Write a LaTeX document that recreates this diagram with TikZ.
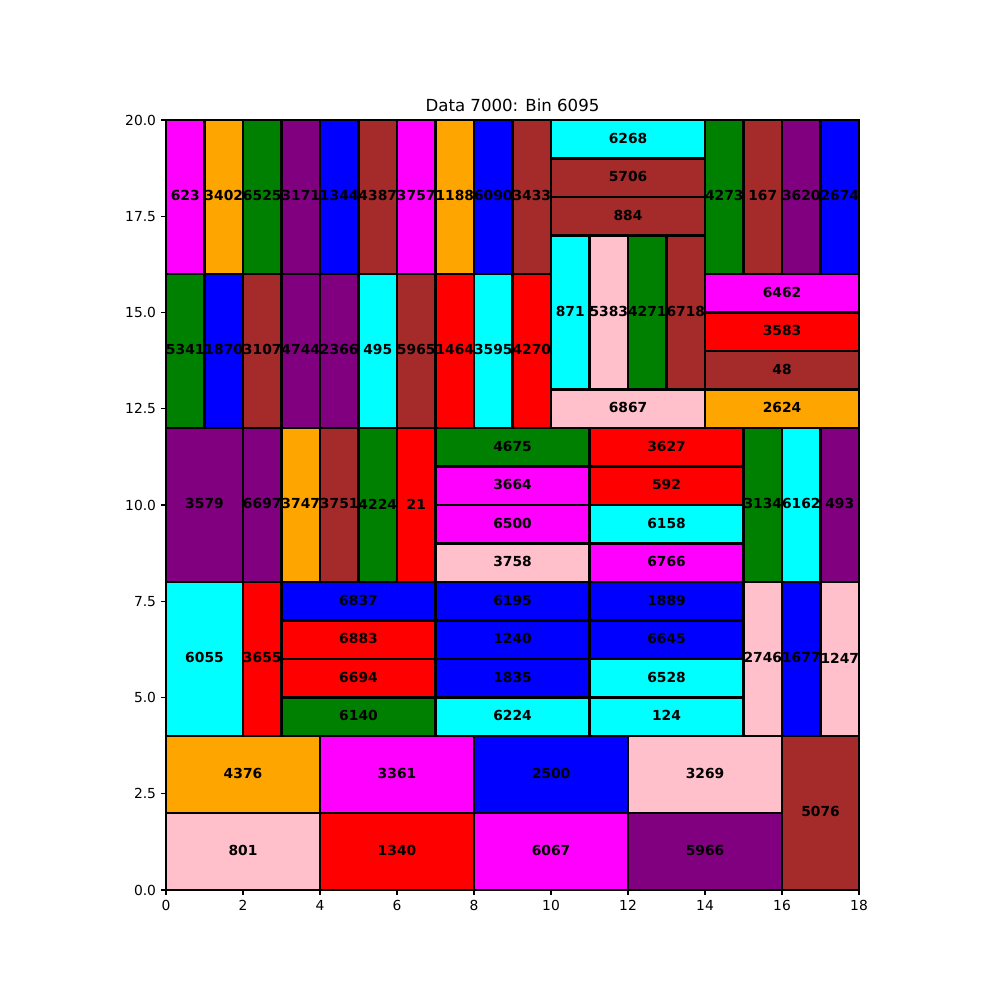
\documentclass[tikz,border=0pt]{standalone}
\usepackage{fontspec}
\setmainfont{DejaVu Sans}
\definecolor{binmagenta}{HTML}{FF00FF}
\definecolor{binorange}{HTML}{FFA500}
\definecolor{bingreen}{HTML}{008000}
\definecolor{binpurple}{HTML}{800080}
\definecolor{binblue}{HTML}{0000FF}
\definecolor{binbrown}{HTML}{A52A2A}
\definecolor{bincyan}{HTML}{00FFFF}
\definecolor{binred}{HTML}{FF0000}
\definecolor{binpink}{HTML}{FFC0CB}
\begin{document}
\begin{tikzpicture}[x=0.9779cm, y=0.9779cm,
  binedge/.style={draw=black, line width=2pt},
  binlabel/.style={inner sep=0pt, yshift=0.8pt, font=\bfseries\fontsize{10}{12}\selectfont},
  ticklabel/.style={inner sep=0pt, font=\fontsize{10}{12}\selectfont}]

% page of 1000x1000 px, axes 0..18 x 0..20
\useasboundingbox (-4.3117,-2.8571) rectangle (21.6623,23.1169);

% x/y/width/height/colour/item
\def\binlist{0/16/1/4/binmagenta/623, 1/16/1/4/binorange/3402, 2/16/1/4/bingreen/6525,
  3/16/1/4/binpurple/3171, 4/16/1/4/binblue/1344, 5/16/1/4/binbrown/4387,
  6/16/1/4/binmagenta/3757, 7/16/1/4/binorange/1188, 8/16/1/4/binblue/6090,
  9/16/1/4/binbrown/3433, 10/19/4/1/bincyan/6268, 10/18/4/1/binbrown/5706,
  10/17/4/1/binbrown/884, 14/16/1/4/bingreen/4273, 15/16/1/4/binbrown/167,
  16/16/1/4/binpurple/3620, 17/16/1/4/binblue/2674,
  0/12/1/4/bingreen/5341, 1/12/1/4/binblue/1870, 2/12/1/4/binbrown/3107,
  3/12/1/4/binpurple/4744, 4/12/1/4/binpurple/2366, 5/12/1/4/bincyan/495,
  6/12/1/4/binbrown/5965, 7/12/1/4/binred/1464, 8/12/1/4/bincyan/3595,
  9/12/1/4/binred/4270, 10/13/1/4/bincyan/871, 11/13/1/4/binpink/5383,
  12/13/1/4/bingreen/4271, 13/13/1/4/binbrown/6718, 10/12/4/1/binpink/6867,
  14/15/4/1/binmagenta/6462, 14/14/4/1/binred/3583, 14/13/4/1/binbrown/48,
  14/12/4/1/binorange/2624,
  0/8/2/4/binpurple/3579, 2/8/1/4/binpurple/6697, 3/8/1/4/binorange/3747,
  4/8/1/4/binbrown/3751, 5/8/1/4/bingreen/4224, 6/8/1/4/binred/21,
  7/11/4/1/bingreen/4675, 7/10/4/1/binmagenta/3664, 7/9/4/1/binmagenta/6500,
  7/8/4/1/binpink/3758, 11/11/4/1/binred/3627, 11/10/4/1/binred/592,
  11/9/4/1/bincyan/6158, 11/8/4/1/binmagenta/6766, 15/8/1/4/bingreen/3134,
  16/8/1/4/bincyan/6162, 17/8/1/4/binpurple/493,
  0/4/2/4/bincyan/6055, 2/4/1/4/binred/3655, 3/7/4/1/binblue/6837,
  3/6/4/1/binred/6883, 3/5/4/1/binred/6694, 3/4/4/1/bingreen/6140,
  7/7/4/1/binblue/6195, 7/6/4/1/binblue/1240, 7/5/4/1/binblue/1835,
  7/4/4/1/bincyan/6224, 11/7/4/1/binblue/1889, 11/6/4/1/binblue/6645,
  11/5/4/1/bincyan/6528, 11/4/4/1/bincyan/124, 15/4/1/4/binpink/2746,
  16/4/1/4/binblue/1677, 17/4/1/4/binpink/1247,
  0/2/4/2/binorange/4376, 0/0/4/2/binpink/801, 4/2/4/2/binmagenta/3361,
  4/0/4/2/binred/1340, 8/2/4/2/binblue/2500, 8/0/4/2/binmagenta/6067,
  12/2/4/2/binpink/3269, 12/0/4/2/binpurple/5966, 16/0/2/4/binbrown/5076}

% Boxes
\foreach \bx/\by/\bw/\bh/\bc/\bn in \binlist {
  \draw[binedge, fill=\bc] (\bx,\by) rectangle ++(\bw,\bh);
}

% Labels (on top of all edges)
\foreach \bx/\by/\bw/\bh/\bc/\bn in \binlist {
  \node[binlabel] (b\bn) at ({\bx+\bw/2},{\by+\bh/2}) {\bn};
}

% Axes frame
\draw[line width=0.8pt] (0,0) rectangle (18,20);

% Ticks
\foreach \t in {0,2,...,18} {
  \draw[line width=0.8pt] (\t,0) -- ++(0,-3.5pt);
  \node[ticklabel, anchor=north] (xt\t) at ([yshift=-7pt]\t,0) {\t};
}
\foreach \t/\lab [count=\i] in {0/0.0,2.5/2.5,5/5.0,7.5/7.5,10/10.0,12.5/12.5,15/15.0,17.5/17.5,20/20.0} {
  \draw[line width=0.8pt] (0,\t) -- ++(-3.5pt,0);
  \node[ticklabel, anchor=east] (yt\i) at ([xshift=-7pt]0,\t) {\lab};
}

% Title
\node[inner sep=0pt, anchor=base, font=\fontsize{12}{14}\selectfont] (title)
  at ([yshift=6pt]9,20) {Data 7000: Bin 6095};

\end{tikzpicture}
\end{document}
